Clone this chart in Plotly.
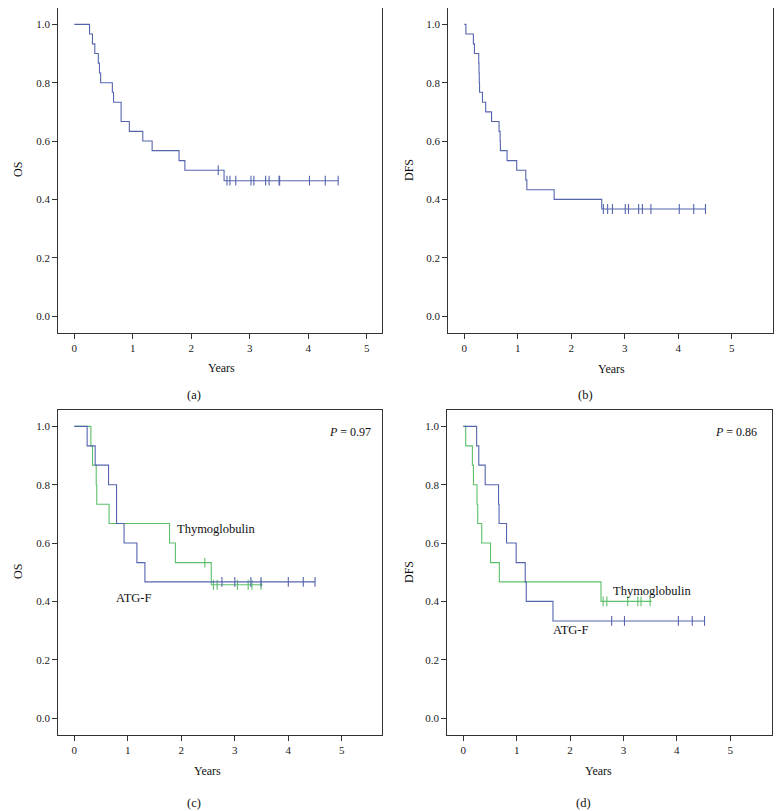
import plotly.graph_objects as go

# page is 782x811; the browser places the figure 8 px in from the top-left corner
PAGE_W, PAGE_H = 782, 811
OFF = 8
W, H = PAGE_W - OFF, PAGE_H - OFF

# ---------------- data ----------------
# (a) overall survival, all patients
os_all_t = [0, 0.26, 0.31, 0.35, 0.41, 0.43, 0.45, 0.65, 0.67, 0.80, 0.94, 1.17, 1.33, 1.79, 1.89, 2.56, 4.51]
os_all_s = [1.0, 0.967, 0.933, 0.9, 0.867, 0.833, 0.8, 0.767, 0.733, 0.667, 0.633, 0.6, 0.567, 0.533, 0.5, 0.464, 0.464]
os_all_cens_t = [2.46, 2.61, 2.66, 2.76, 3.02, 3.07, 3.27, 3.33, 3.50, 3.51, 4.02, 4.29, 4.51]
os_all_cens_s = [0.5, 0.464, 0.464, 0.464, 0.464, 0.464, 0.464, 0.464, 0.464, 0.464, 0.464, 0.464, 0.464]

# (b) disease-free survival, all patients
dfs_all_t = [0, 0.03, 0.17, 0.19, 0.27, 0.275, 0.28, 0.285, 0.34, 0.40, 0.51, 0.65, 0.67, 0.675,
             0.80, 0.98, 1.15, 1.17, 1.68, 2.57, 4.51]
dfs_all_s = [1.0, 0.967, 0.933, 0.9, 0.867, 0.833, 0.8, 0.767, 0.733, 0.7, 0.667, 0.633, 0.6, 0.567,
             0.533, 0.5, 0.467, 0.433, 0.4, 0.367, 0.367]
dfs_all_cens_t = [2.60, 2.68, 2.77, 3.01, 3.07, 3.26, 3.33, 3.49, 4.02, 4.29, 4.51]
dfs_all_cens_s = [0.367] * 11

# (c) overall survival by group
os_atg_t = [0, 0.24, 0.39, 0.64, 0.79, 0.93, 1.17, 1.32, 4.50]
os_atg_s = [1.0, 0.933, 0.867, 0.8, 0.667, 0.6, 0.533, 0.467, 0.467]
os_atg_cens_t = [2.76, 3.00, 3.30, 3.49, 4.00, 4.28, 4.50]
os_atg_cens_s = [0.467] * 7
os_thy_t = [0, 0.31, 0.34, 0.41, 0.42, 0.65, 1.78, 1.89, 2.56, 3.52]
os_thy_s = [1.0, 0.933, 0.867, 0.8, 0.733, 0.667, 0.6, 0.533, 0.457, 0.457]
os_thy_cens_t = [2.44, 2.60, 2.67, 3.05, 3.25, 3.32, 3.49]
os_thy_cens_s = [0.533, 0.457, 0.457, 0.457, 0.457, 0.457, 0.457]

# (d) disease-free survival by group
dfs_atg_t = [0, 0.25, 0.29, 0.41, 0.66, 0.67, 0.81, 0.99, 1.16, 1.18, 1.68, 4.52]
dfs_atg_s = [1.0, 0.933, 0.867, 0.8, 0.733, 0.667, 0.6, 0.533, 0.467, 0.4, 0.333, 0.333]
dfs_atg_cens_t = [2.78, 3.02, 4.03, 4.29, 4.52]
dfs_atg_cens_s = [0.333] * 5
dfs_thy_t = [0, 0.045, 0.17, 0.19, 0.257, 0.27, 0.345, 0.51, 0.675, 2.58, 3.53]
dfs_thy_s = [1.0, 0.933, 0.867, 0.8, 0.733, 0.667, 0.6, 0.533, 0.467, 0.4, 0.4]
dfs_thy_cens_t = [2.62, 2.69, 3.08, 3.27, 3.33, 3.50]
dfs_thy_cens_s = [0.4] * 6

x_ticks = [0, 1, 2, 3, 4, 5]
y_ticks = [0.0, 0.2, 0.4, 0.6, 0.8, 1.0]

# ---------------- styling ----------------
BLUE = "#5565ad"
GREEN = "#5cc06b"
FONT = "Liberation Serif"
AX = "#333333"

fig = go.Figure()


def add_curve(t, s, ct, cs, color, idx):
    xa = "x" if idx == 1 else f"x{idx}"
    ya = "y" if idx == 1 else f"y{idx}"
    fig.add_trace(go.Scatter(x=t, y=s, mode="lines", line=dict(color=color, width=1.1, shape="hv"),
                             xaxis=xa, yaxis=ya, showlegend=False, hoverinfo="skip"))
    fig.add_trace(go.Scatter(x=ct, y=cs, mode="markers",
                             marker=dict(symbol="line-ns", size=7, line=dict(color=color, width=1.1)),
                             xaxis=xa, yaxis=ya, showlegend=False, hoverinfo="skip"))


add_curve(os_all_t, os_all_s, os_all_cens_t, os_all_cens_s, BLUE, 1)
add_curve(dfs_all_t, dfs_all_s, dfs_all_cens_t, dfs_all_cens_s, BLUE, 2)
add_curve(os_thy_t, os_thy_s, os_thy_cens_t, os_thy_cens_s, GREEN, 3)
add_curve(os_atg_t, os_atg_s, os_atg_cens_t, os_atg_cens_s, BLUE, 3)
add_curve(dfs_thy_t, dfs_thy_s, dfs_thy_cens_t, dfs_thy_cens_s, GREEN, 4)
add_curve(dfs_atg_t, dfs_atg_s, dfs_atg_cens_t, dfs_atg_cens_s, BLUE, 4)


def px_x(x):
    return (x - OFF) / W


def px_y(y):
    return 1 - (y - OFF) / H


# plot boxes in page pixels (left, right, top, bottom) and x ranges
boxes = {
    1: (58.3, 382.3, 8, 333, [-0.274, 5.265]),
    2: (448.3, 773.3, 8, 333, [-0.299, 5.778]),
    3: (58.3, 382.3, 410, 735, [-0.299, 5.757]),
    4: (447.3, 772.3, 410, 735, [-0.300, 5.790]),
}

tickfont = dict(family=FONT, size=11, color="#222")
layout = dict(width=W, height=H, margin=dict(l=0, r=0, t=0, b=0),
              paper_bgcolor="white", plot_bgcolor="white", font=dict(family=FONT))
for i, (l, r, t, b, xr) in boxes.items():
    xk = "xaxis" if i == 1 else f"xaxis{i}"
    yk = "yaxis" if i == 1 else f"yaxis{i}"
    ya = "y" if i == 1 else f"y{i}"
    xa = "x" if i == 1 else f"x{i}"
    layout[xk] = dict(domain=[max(0, px_x(l)), min(1, px_x(r))], range=xr, anchor=ya, tickvals=x_ticks,
                      showline=True, mirror=True, linecolor=AX, linewidth=1, ticks="outside",
                      ticklen=5, tickcolor=AX, showgrid=False, zeroline=False, tickfont=tickfont)
    layout[yk] = dict(domain=[max(0, px_y(b)), min(1, px_y(t))], range=[-0.058, 1.056], anchor=xa,
                      tickvals=y_ticks, tickformat=".1f", showline=True, mirror=True, linecolor=AX,
                      linewidth=1, ticks="outside", ticklen=5, tickcolor=AX, showgrid=False,
                      zeroline=False, tickfont=tickfont)
fig.update_layout(**layout)

ann = []


def text(x, y, s, size=11.5, xanchor="center", angle=0):
    ann.append(dict(x=px_x(x), y=px_y(y), xref="paper", yref="paper", text=s, showarrow=False,
                    xanchor=xanchor, yanchor="middle", textangle=angle,
                    font=dict(family=FONT, size=size, color="#111")))


# axis titles
text(221, 368, "Years", size=12)
text(611, 369, "Years", size=12)
text(208, 771, "Years", size=12)
text(598, 771, "Years", size=12)
text(18, 170, "OS", size=12, angle=-90)
text(409, 170, "DFS", size=12, angle=-90)
text(18, 572, "OS", size=12, angle=-90)
text(409, 572, "DFS", size=12, angle=-90)
# panel labels
text(194, 395, "(a)", size=12.5)
text(585, 395, "(b)", size=12.5)
text(194, 803, "(c)", size=12.5)
text(583, 803, "(d)", size=12.5)
# in-plot labels
text(175, 529, "Thymoglobulin", size=12.5, xanchor="left")
text(133, 598, "ATG-F", size=12.5)
text(611, 591, "Thymoglobulin", size=12.5, xanchor="left")
text(570, 630, "ATG-F", size=12.5)
text(350, 432, "<i>P</i> = 0.97", size=12)
text(736, 432, "<i>P</i> = 0.86", size=12)

fig.update_layout(annotations=ann)
fig.write_html("out.html")
